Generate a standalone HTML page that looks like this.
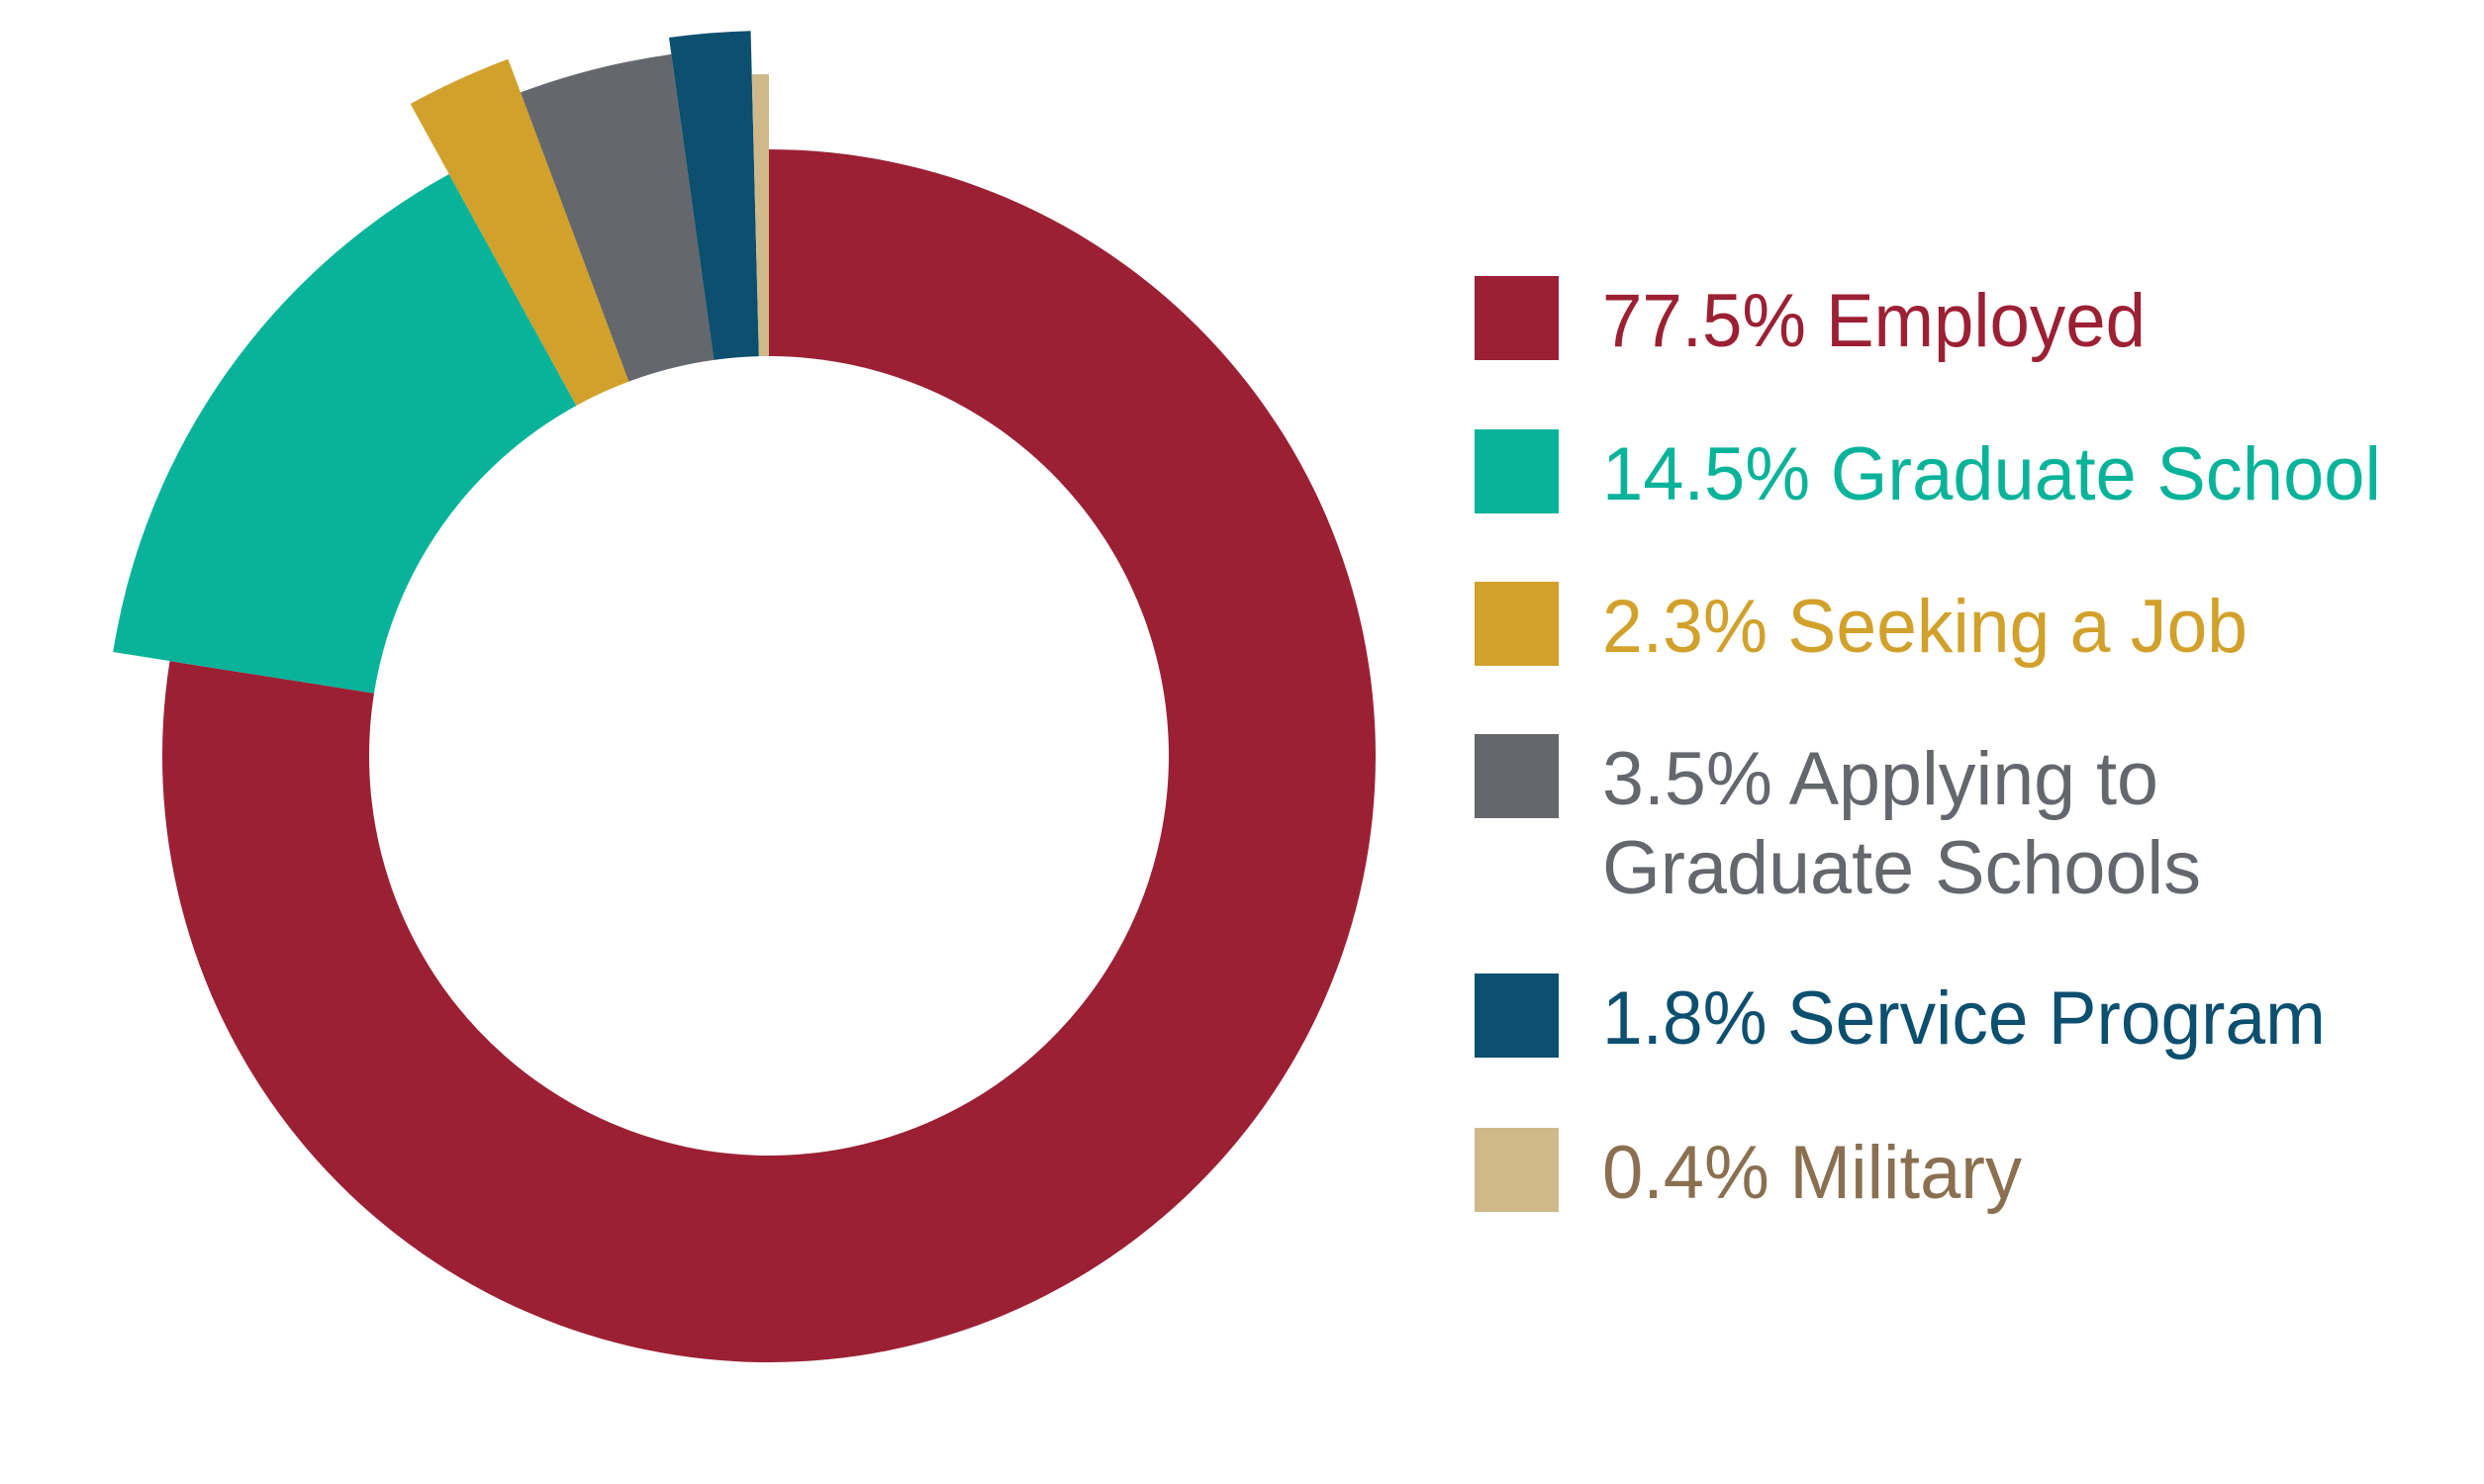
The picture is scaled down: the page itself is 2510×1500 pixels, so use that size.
<!DOCTYPE html>
<html><head><meta charset="utf-8"><style>
html,body{margin:0;padding:0;background:#fff;}
svg{display:block;}
text{font-family:"Liberation Sans",sans-serif;font-size:76px;}
</style></head><body>
<svg id="chart" width="2510" height="1500" viewBox="0 0 2510 1500" xmlns="http://www.w3.org/2000/svg">
<g id="slices"></g>
<g id="legend"></g>
</svg>
<script>
const categories = ["Employed","Graduate School","Seeking a Job","Applying to Graduate Schools","Service Program","Military"];
const values = [77.5, 14.5, 2.3, 3.5, 1.8, 0.4];
const labels = [["77.5% Employed"],["14.5% Graduate School"],["2.3% Seeking a Job"],["3.5% Applying to","Graduate Schools"],["1.8% Service Program"],["0.4% Military"]];
const outerRadii = [613, 671, 752, 716, 733, 689];
const colors = ["#9c2034","#09b39a","#d1a12b","#64676b","#0c4f6f","#cfb98a"];
const textColors = ["#9c2034","#09b39a","#d1a12b","#64676b","#0c4f6f","#8a7050"];

const NS = "http://www.w3.org/2000/svg";
const cx = 777, cy = 764, rIn = 404;
const total = values.reduce((a,b)=>a+b,0);
function angle(v){ return v/total*2*Math.PI; }
function pt(r,a){ return [cx + r*Math.sin(a), cy - r*Math.cos(a)]; }
const gS = document.getElementById("slices");
let acc = 0;
values.forEach((v,i)=>{
  const a0 = angle(acc), a1 = angle(acc+v); acc += v;
  const R = outerRadii[i];
  const large = (a1-a0) > Math.PI ? 1 : 0;
  const p1 = pt(R,a0), p2 = pt(R,a1), p3 = pt(rIn,a1), p4 = pt(rIn,a0);
  const d = `M${p1[0]},${p1[1]} A${R},${R} 0 ${large} 1 ${p2[0]},${p2[1]} L${p3[0]},${p3[1]} A${rIn},${rIn} 0 ${large} 0 ${p4[0]},${p4[1]} Z`;
  const p = document.createElementNS(NS,"path");
  p.setAttribute("d", d);
  p.setAttribute("fill", colors[i]);
  
  
  gS.appendChild(p);
});

const gL = document.getElementById("legend");
const legendTops = [279, 434, 588, 742, 984, 1140];
const lineWidths = [[549],[787],[652],[562,605],[731],[424]];
legendTops.forEach((top,i)=>{
  const r = document.createElementNS(NS,"rect");
  r.setAttribute("x",1490); r.setAttribute("y",top);
  r.setAttribute("width",85); r.setAttribute("height",85);
  r.setAttribute("fill",colors[i]);
  
  
  gL.appendChild(r);
  labels[i].forEach((line,j)=>{
    const t = document.createElementNS(NS,"text");
    t.setAttribute("x",1619);
    t.setAttribute("y",top + 71 + j*90);
    t.setAttribute("fill",textColors[i]);
    t.setAttribute("textLength",lineWidths[i][j]);
    t.setAttribute("lengthAdjust","spacingAndGlyphs");
    t.textContent = line;
    
    
    gL.appendChild(t);
  });
});
</script>
</body></html>
